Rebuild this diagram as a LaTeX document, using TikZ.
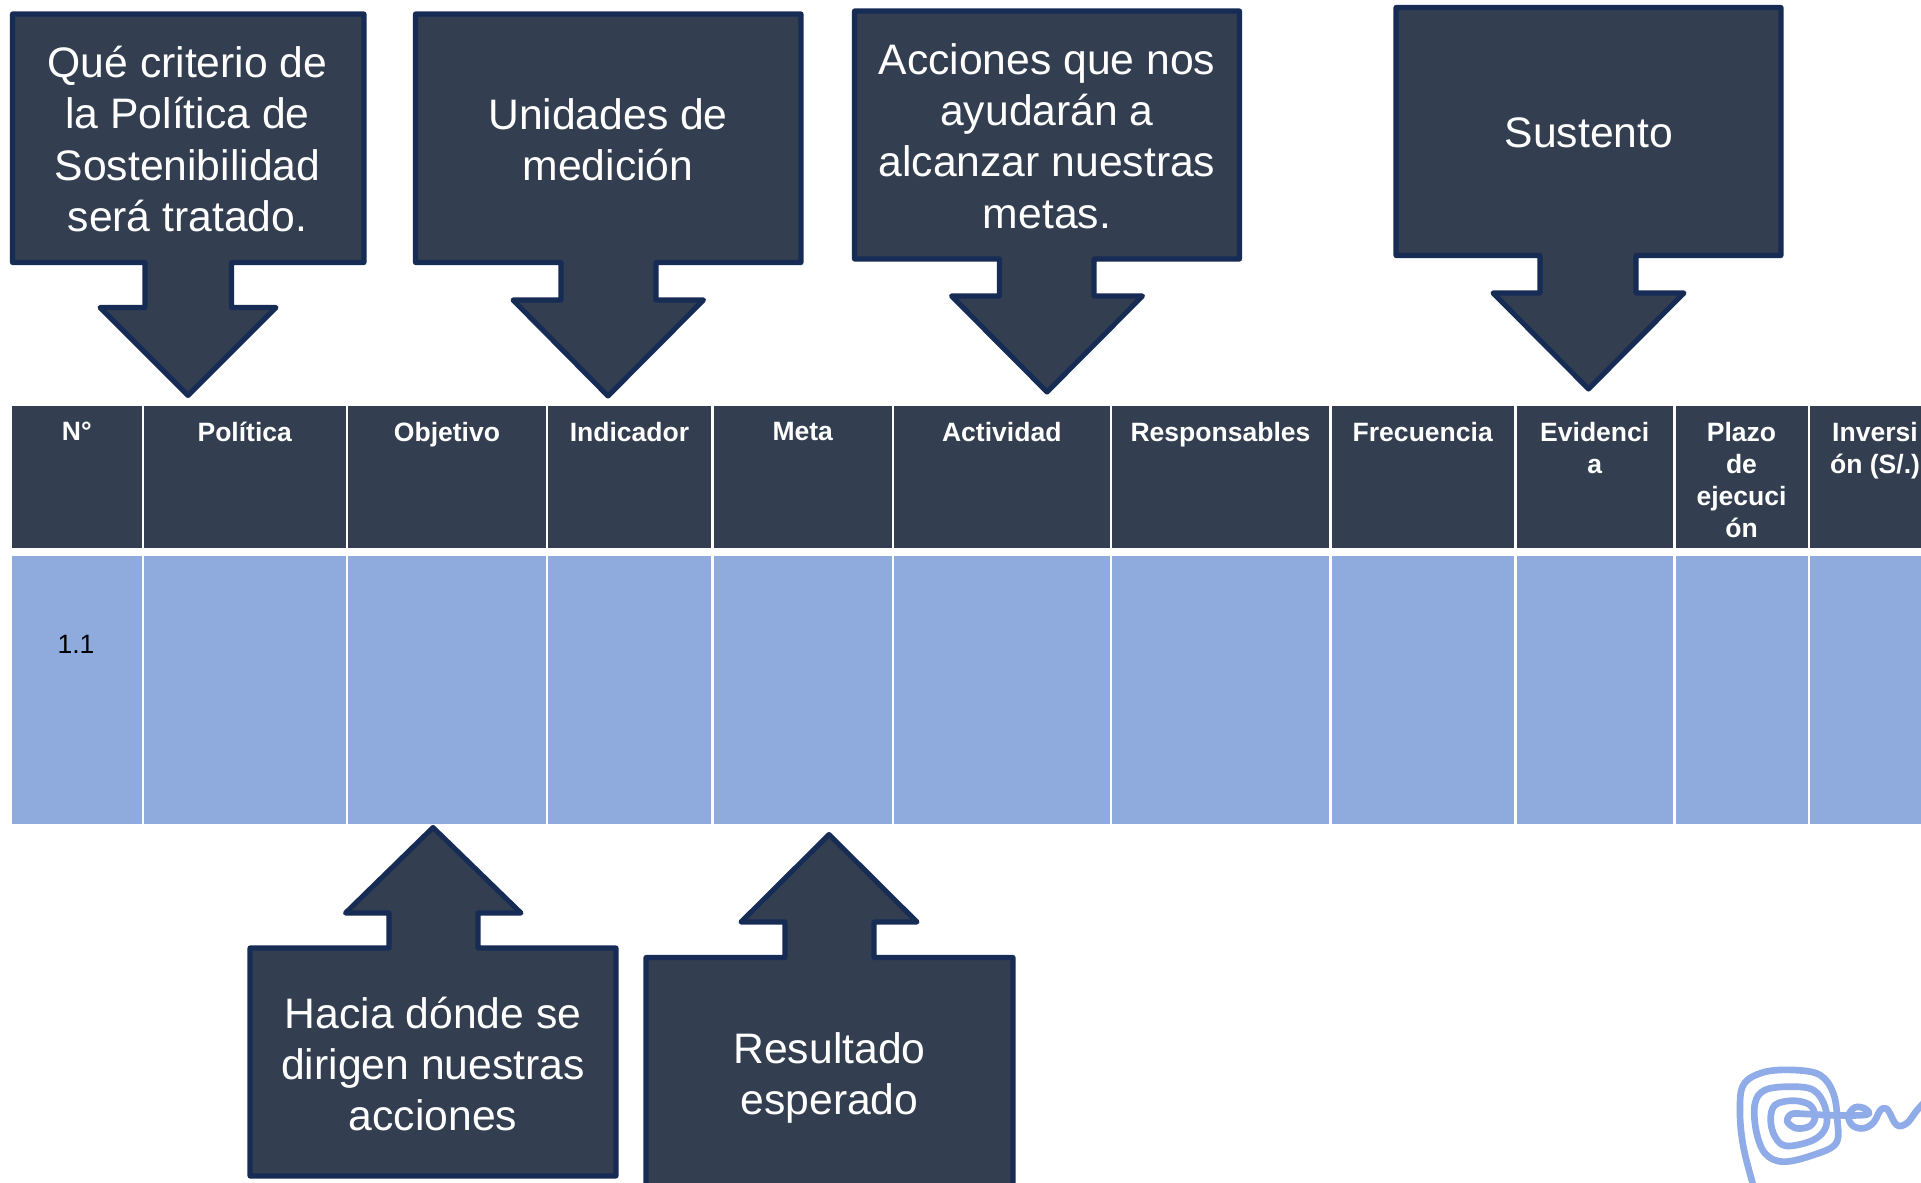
\documentclass[tikz,border=0pt]{standalone}
\usepackage{fontspec}
\setmainfont{Liberation Sans}
\definecolor{darkfill}{HTML}{333F50}
\definecolor{darkline}{HTML}{172C55}
\definecolor{bodyblue}{HTML}{8FAADC}
\definecolor{logoblue}{HTML}{8FABE8}
\tikzset{
  calloutshape/.style={fill=darkfill,draw=darkline,line width=3.8pt,line join=round},
  callouttext/.style={text=white,align=center,inner sep=0pt,font=\fontsize{32}{38.6}\selectfont},
  headcell/.style={fill=darkfill,inner sep=0pt,anchor=north west},
  bodycell/.style={fill=bodyblue,inner sep=0pt,anchor=north west},
  headtext/.style={text=white,align=center,anchor=north,inner sep=0pt,font=\fontsize{19.9}{24}\selectfont\bfseries},
  celltext/.style={text=black,anchor=center,inner sep=0pt,font=\fontsize{19.9}{24}\selectfont},
  logoline/.style={draw=logoblue,line width=5pt,line cap=round,line join=round}
}
% col left, col right, name, text
\newcommand{\colcell}[4]{%
  \path[headcell] (#1,406) rectangle (#2,548);
  \path[fill=bodyblue] (#1,556) rectangle (#2,823.5);
  \node[headtext] (#3) at ({(#1+#2)/2},421.5) {#4};
}
\begin{document}
\begin{tikzpicture}[x=0.75pt,y=-0.75pt]
\useasboundingbox (0,0) rectangle (1921,1182);
\clip (0,0) rectangle (1921,1182);
\fill[white] (0,0) rectangle (1921,1182);
% table
\colcell{12}{141.5}{hn}{N°}
\colcell{144}{345.5}{hp}{Política}
\colcell{348}{546}{ho}{Objetivo}
\colcell{548}{711}{hi}{Indicador}
\colcell{713.5}{892}{hm}{Meta}
\colcell{894}{1109.5}{ha}{Actividad}
\colcell{1112}{1329}{hr}{Responsables}
\colcell{1331.5}{1514}{hf}{Frecuencia}
\colcell{1516.5}{1673}{he}{Evidenci\\a}
\colcell{1675.5}{1807.5}{hz}{Plazo\\de\\ejecuci\\ón}
\colcell{1810}{1940}{hv}{Inversi\\ón (S/.)}
\node[celltext] (cell11) at (76,644) {1.1};
% callouts down
\path[calloutshape] (12.5,14) -- (364,14) -- (364,262.5) -- (231.5,262.5) -- (231.5,307.5) -- (276,307.5) -- (188,395.5) -- (100,307.5) -- (145,307.5) -- (145,262.5) -- (12.5,262.5) -- cycle;
\node[callouttext] (c1) at (187.5,139) {Qué criterio de\\la Política de\\Sostenibilidad\\será tratado.};
\path[calloutshape] (415.5,14) -- (801,14) -- (801,262.5) -- (656,262.5) -- (656,300) -- (703.5,300) -- (608,396) -- (513,300) -- (561,300) -- (561,262.5) -- (415.5,262.5) -- cycle;
\node[callouttext] (c2) at (608,139.5) {Unidades de\\medición};
\path[calloutshape] (854.5,11) -- (1239.5,11) -- (1239.5,259) -- (1094,259) -- (1094,296) -- (1142.5,296) -- (1047,392) -- (951.5,296) -- (999.5,296) -- (999.5,259) -- (854.5,259) -- cycle;
\node[callouttext] (c3) at (1047,136) {Acciones que nos\\ayudarán a\\alcanzar nuestras\\metas.};
\path[calloutshape] (1396,7.5) -- (1781,7.5) -- (1781,255.5) -- (1636,255.5) -- (1636,293) -- (1684,293) -- (1588.5,389) -- (1493,293) -- (1540,293) -- (1540,255.5) -- (1396,255.5) -- cycle;
\node[callouttext] (c4) at (1589,132.5) {Sustento};
% callouts up
\path[calloutshape] (250,1176) -- (616,1176) -- (616,948) -- (478,948) -- (478,913) -- (521,913) -- (433,827.5) -- (345.5,913) -- (389,913) -- (389,948) -- (250,948) -- cycle;
\node[callouttext] (c5) at (433,1064) {Hacia dónde se\\dirigen nuestras\\acciones};
\path[calloutshape] (646,1200) -- (1013,1200) -- (1013,957.5) -- (874,957.5) -- (874,922) -- (917,922) -- (829,834.5) -- (741,922) -- (785,922) -- (785,957.5) -- (646,957.5) -- cycle;
\node[callouttext] (c6) at (829.5,1078) {Resultado\\esperado};
% logo
\begin{scope}[shift={(1700,1040)},x=0.25pt,y=-0.25pt]
\draw[logoline] plot[smooth,tension=0.6] coordinates {(158,430) (130,320) (120,220) (130,135) (190,97) (280,90) (360,105) (400,160) (412,240) (408,310) (340,345) (250,365) (195,340) (168,270) (165,190) (195,150) (270,140) (340,150) (375,200) (378,260) (340,300) (260,318) (225,290) (212,240) (225,195) (280,182) (330,195) (345,230) (330,258) (290,265) (262,245) (275,222) (320,222) (400,226) (500,224) (495,206) (465,202) (445,228) (458,257) (490,265) (520,248) (540,212) (552,205) (565,212) (590,255) (620,250) (650,212) (670,190)};
\end{scope}
\end{tikzpicture}
\end{document}
